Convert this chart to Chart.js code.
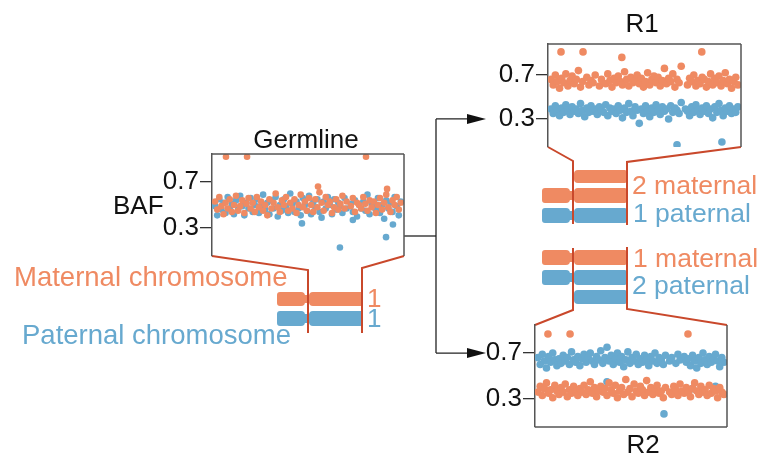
<!DOCTYPE html>
<html>
<head>
<meta charset="utf-8">
<script src="https://cdn.jsdelivr.net/npm/chart.js@4.4.1/dist/chart.umd.min.js"></script>
<style>
  html, body { margin: 0; padding: 0; background: #fff; }
  #stage { position: relative; width: 765px; height: 455px; overflow: hidden; font-family: "Liberation Sans", Arial, sans-serif; }
  #stage canvas { position: absolute; }
  .lbl { position: absolute; white-space: nowrap; color: #111; }
</style>
</head>
<body>
<div id="stage">
  <canvas id="deco" width="765" height="455" style="left:0;top:0"></canvas>
  <canvas id="germ" width="310" height="112" style="left:100px;top:150px"></canvas>
  <canvas id="r1" width="270" height="112" style="left:480px;top:40px"></canvas>
  <canvas id="r2" width="265" height="112" style="left:470px;top:320px"></canvas>
</div>
<script>
/**
 * BAF panels for the germline and the two tumour regions (R1, R2),
 * joined by the chromosome copy-number sketch.
 */

const ORANGE = '#EF8A62';
const BLUE   = '#67A9CF';
const RED    = '#C9482B';
const EDGE   = '#555';
const FONT   = '"Liberation Sans", Arial, sans-serif';

// y ticks shown on every panel
const yTicks = [0.3, 0.7];

// Germline: maternal / paternal BAF along the segment (index = SNP order)
const gMaternal = [0.53,0.46,0.57,0.49,0.42,0.52,0.47,0.55,0.44,0.50,
  0.58,0.45,0.49,0.54,0.43,0.51,0.56,0.47,0.52,0.44,
  0.57,0.48,0.53,0.45,0.50,0.41,0.55,0.47,0.52,0.60,
  0.48,0.44,0.54,0.50,0.57,0.45,0.52,0.47,0.55,0.43,
  0.50,0.59,0.48,0.53,0.45,0.56,0.50,0.44,0.55,0.48,
  0.61,0.52,0.45,0.57,0.50,0.53,0.43,0.48,0.55,0.46,
  0.51,0.58,0.47,0.53,null,0.49,0.56,0.44,0.52,0.50,
  0.47,0.57,0.51,0.45,0.54,0.48,0.53,0.43,0.50,0.56,
  0.46,0.52,0.59,0.48,0.44,0.54,0.50,0.57,0.46,0.52];
const gPaternal = [0.49,0.41,0.55,0.46,0.52,0.43,0.57,0.47,0.51,0.42,
  0.54,0.46,0.58,0.49,0.41,0.52,0.47,0.56,0.44,0.50,
  0.55,0.43,0.49,0.59,0.46,0.52,0.42,0.54,0.47,0.57,
  0.40,0.50,0.45,0.55,0.49,0.43,0.60,0.51,0.44,0.53,
  0.47,0.41,0.56,0.50,0.45,0.58,0.42,0.52,0.48,0.55,
  0.44,0.39,0.53,0.47,0.57,0.50,0.42,0.55,0.46,0.52,
  0.49,0.43,0.56,0.47,null,0.51,0.44,0.54,0.40,0.50,
  0.47,0.53,0.45,0.59,0.42,0.51,0.48,0.46,0.56,0.43,
  0.50,0.38,0.54,0.47,0.52,0.44,0.57,0.49,0.41,0.53];
const gMatOutX = [5.2, 15.3, 49.3, 72.3, 82.4];
const gMatOutY = [0.92, 0.92, 0.66, 0.92, 0.64];
const gPatOutX = [41.6, 59.8, 66, 81.9, 85.2];
const gPatOutY = [0.34, 0.13, 0.37, 0.22, 0.33];

// R1: 2 maternal + 1 paternal
const r1Maternal = [0.66,0.61,0.70,0.64,0.58,0.67,0.63,0.71,0.60,0.65,
  0.69,0.62,0.66,0.74,0.59,0.64,null,0.68,0.61,0.65,
  0.63,0.70,null,0.60,0.66,null,0.62,0.71,0.65,0.59,
  0.67,0.63,0.69,0.64,0.61,0.73,0.66,0.60,0.68,0.63,
  0.65,0.70,0.62,0.67,0.59,0.64,0.72,0.61,0.66,0.69,
  0.63,0.68,0.60,0.65,0.76,0.62,0.67,0.64,0.71,0.59,
  0.66,0.63,0.78,null,null,0.61,0.67,0.64,0.70,0.60,
  0.65,0.62,0.68,0.66,0.59,0.64,0.71,0.61,0.67,0.63,
  0.69,0.60,0.65,0.72,0.62,0.66,0.58,0.64,0.68,0.61];
const r1Paternal = [0.39,0.35,0.42,0.37,0.33,0.40,0.36,0.43,0.38,0.34,
  0.41,0.37,0.39,0.35,0.44,0.38,0.32,0.40,0.36,0.42,
  0.37,0.39,0.34,0.41,0.38,0.36,0.43,0.33,0.40,0.37,
  0.39,0.35,0.42,0.38,0.31,0.40,0.36,0.44,0.37,0.33,
  0.41,0.38,0.26,0.39,0.35,0.42,0.37,0.32,0.40,0.36,
  0.43,0.38,0.34,0.41,0.37,0.39,0.30,0.42,0.36,0.40,
  0.38,0.35,0.45,null,0.39,0.37,0.33,0.41,0.36,0.43,
  0.38,0.34,0.40,0.37,0.42,0.35,0.39,0.31,0.41,0.36,
  0.44,0.38,0.33,0.40,0.37,0.42,0.35,0.39,0.36,0.41];
const r1MatOutX = [4.7, 15.2, 33.7, 71.8];
const r1MatOutY = [0.91, 0.91, 0.86, 0.91];
const r1PatOutX = [60, 81.4];
const r1PatOutY = [0.065, 0.09];

// R2: 1 maternal + 2 paternal
const r2Maternal = [0.36,0.41,0.33,0.39,0.44,0.35,0.38,0.31,0.42,0.37,
  0.34,0.40,0.36,0.43,0.32,0.38,0.35,0.41,0.37,0.33,
  0.39,0.36,0.42,0.34,0.38,0.45,0.35,0.40,0.32,0.37,
  0.41,0.36,0.39,0.33,0.44,0.38,0.35,0.42,0.31,0.37,
  0.40,0.34,0.47,0.36,0.39,0.32,0.43,0.37,0.35,0.41,
  0.38,0.33,0.46,0.36,0.40,0.34,0.39,0.42,0.35,0.37,
  0.31,0.40,null,0.36,0.34,0.41,0.38,0.33,0.43,0.37,
  0.35,0.40,0.36,0.32,0.39,0.44,0.37,0.34,0.41,0.36,
  0.38,0.33,0.42,0.35,0.39,0.37,0.31,0.40,0.36,0.34];
const r2Paternal = [0.66,0.60,0.69,0.63,0.57,0.67,0.62,0.70,0.64,0.59,
  0.65,0.61,0.68,0.63,0.66,0.60,0.71,0.64,0.62,0.67,
  0.59,0.65,0.69,0.62,0.66,0.70,0.63,0.60,0.67,0.64,
  0.72,0.61,0.66,0.75,0.63,0.68,0.60,0.65,0.70,0.62,
  0.67,0.58,0.64,0.71,0.61,0.66,0.63,0.69,0.60,0.65,
  0.62,0.68,0.64,0.59,0.67,0.63,0.70,0.61,0.66,0.64,
  0.60,0.68,null,0.63,0.66,null,0.61,0.69,0.64,null,
  0.67,0.62,0.65,0.59,0.68,0.63,0.57,0.66,0.61,0.70,
  0.64,0.60,0.67,0.62,0.65,0.69,0.63,0.58,0.66,0.62];
const r2MatOutX = [4.7, 15.3, 71.8];
const r2MatOutY = [0.865, 0.865, 0.865];
const r2PatOutX = [33, 60.3, 74, 85];
const r2PatOutY = [0.45, 0.17, 0.39, 0.41];

function series(ys) {
  return ys.map((y, i) => ({ x: i, y: y }));
}
function pairs(xs, ys) {
  return xs.map((x, i) => ({ x: x, y: ys[i] }));
}

// draws the top / right / bottom edges of the panel frame
const panelBox = {
  id: 'panelBox',
  afterDraw(chart, args, opts) {
    const { ctx, chartArea: a } = chart;
    ctx.save();
    ctx.strokeStyle = EDGE;
    ctx.lineWidth = 1.5;
    ctx.beginPath();
    if (opts.top) { ctx.moveTo(a.left, a.top); ctx.lineTo(a.right, a.top); }
    ctx.moveTo(a.right, a.top);
    ctx.lineTo(a.right, a.bottom);
    if (opts.bottom) { ctx.moveTo(a.left, a.bottom); ctx.lineTo(a.right, a.bottom); }
    ctx.stroke();
    ctx.restore();
  }
};

function makePanel(id, p) {
  const n = p.mat.length;
  const dot = (data, color) => ({
    data: data, backgroundColor: color, borderWidth: 0,
    pointRadius: p.r, pointHoverRadius: p.r
  });
  return new Chart(document.getElementById(id), {
    type: 'scatter',
    data: {
      datasets: [
        dot(series(p.mat), ORANGE),
        dot(series(p.pat), BLUE),
        dot(pairs(p.matOutX, p.matOutY), ORANGE),
        dot(pairs(p.patOutX, p.patOutY), BLUE)
      ]
    },
    options: {
      responsive: false,
      animation: false,
      events: [],
      layout: { padding: { top: p.pad[0], right: p.pad[1], bottom: p.pad[2], left: 0 } },
      plugins: {
        legend: { display: false },
        tooltip: { enabled: false },
        panelBox: { top: p.top, bottom: p.bottom }
      },
      scales: {
        x: { display: false, min: -1.5, max: n + 0.5 },
        y: {
          min: p.min, max: p.max,
          afterBuildTicks: s => { s.ticks = yTicks.map(v => ({ value: v })); },
          afterFit: s => { s.width = p.axisW; s.paddingTop = 0; s.paddingBottom = 0; },
          ticks: { callback: v => v.toFixed(1), color: '#111', padding: 1, font: { family: FONT, size: 26 } },
          grid: { drawOnChartArea: false, tickLength: 12, color: '#333', lineWidth: 1.3 },
          border: { color: EDGE, width: 1.5 }
        }
      }
    },
    plugins: [panelBox]
  });
}

const germ = makePanel('germ', {
  mat: gMaternal, pat: gPaternal, matOutX: gMatOutX, matOutY: gMatOutY, patOutX: gPatOutX, patOutY: gPatOutY,
  min: 0.056, max: 0.944, axisW: 112, pad: [4, 6, 6], top: true, bottom: false, r: 3.3
});
const r1 = makePanel('r1', {
  mat: r1Maternal, pat: r1Paternal, matOutX: r1MatOutX, matOutY: r1MatOutY, patOutX: r1PatOutX, patOutY: r1PatOutY,
  min: 0.045, max: 0.982, axisW: 68, pad: [4, 9, 5], top: true, bottom: false, r: 3.8
});
const r2 = makePanel('r2', {
  mat: r2Maternal, pat: r2Paternal, matOutX: r2MatOutX, matOutY: r2MatOutY, patOutX: r2PatOutX, patOutY: r2PatOutY,
  min: 0.056, max: 0.944, axisW: 65, pad: [5, 8, 5], top: false, bottom: true, r: 3.8
});

// chart area of a panel in page coordinates
function area(chart) {
  const c = chart.canvas, a = chart.chartArea;
  const ox = c.offsetLeft, oy = c.offsetTop;
  return { left: ox + a.left, right: ox + a.right, top: oy + a.top, bottom: oy + a.bottom, oy: oy };
}

// ---- sketch: connectors, arrows, chromosomes ----
const ctx = document.getElementById('deco').getContext('2d');
const gA = area(germ), r1A = area(r1), r2A = area(r2);

function poly(pts, color, w) {
  ctx.strokeStyle = color;
  ctx.lineWidth = w;
  ctx.beginPath();
  pts.forEach((p, i) => i ? ctx.lineTo(p[0], p[1]) : ctx.moveTo(p[0], p[1]));
  ctx.stroke();
}

function chromosome(x0, xc, x1, y, h, color, full) {
  ctx.fillStyle = color;
  ctx.beginPath();
  if (full) ctx.roundRect(x0, y, xc - 2 - x0, h, [3, 4, 4, 3]);
  ctx.roundRect(xc + 2, y, x1 - xc - 2, h, [4, 1, 1, 4]);
  ctx.fill();
  if (full) ctx.fillRect(xc - 3, y + 3, 6, h - 6);
}

function arrow(x0, x1, y) {
  poly([[x0, y], [x1 - 16, y]], '#222', 1.3);
  ctx.fillStyle = '#111';
  ctx.beginPath();
  ctx.moveTo(x1 - 19, y - 5);
  ctx.lineTo(x1, y);
  ctx.lineTo(x1 - 19, y + 5);
  ctx.closePath();
  ctx.fill();
}

// germline chromosomes
chromosome(277, 307, 362, 292, 14, ORANGE, true);
chromosome(277, 307, 362, 311, 15, BLUE, true);
// R1: extra maternal arm + maternal + paternal
chromosome(542, 572, 626, 170, 13, ORANGE, false);
chromosome(542, 572, 626, 188, 15, ORANGE, true);
chromosome(542, 572, 626, 208, 15, BLUE, true);
// R2: maternal + paternal + extra paternal arm
chromosome(542, 572, 626, 250, 15, ORANGE, true);
chromosome(542, 572, 626, 270, 15, BLUE, true);
chromosome(542, 572, 626, 290, 14, BLUE, false);

// zoom lines from each panel down/up to its chromosomes
poly([[gA.left, gA.bottom], [308, 270], [308, 333]], RED, 2);
poly([[gA.right, gA.bottom], [362, 268], [362, 333]], RED, 2);
poly([[r1A.left, r1A.bottom], [573, 161], [573, 224]], RED, 2);
poly([[r1A.right, r1A.bottom], [627, 162], [627, 225]], RED, 2);
poly([[573, 248], [573, 310], [r2A.left, r2A.top]], RED, 2);
poly([[627, 247], [627, 309], [r2A.right, r2A.top]], RED, 2);

// germline -> R1 / R2
const yTo1 = r1A.oy + r1.scales.y.getPixelForValue(0.3);
const yTo2 = r2A.oy + r2.scales.y.getPixelForValue(0.7);
poly([[gA.right, 236], [436, 236]], '#222', 1.3);
poly([[436, yTo1], [436, yTo2]], '#222', 1.3);
arrow(436, 486, yTo1);
arrow(436, 486, yTo2);

// ---- text ----
const labels = [
  { t: 'Germline', x: 306, base: 148, size: 26, color: '#111', center: true },
  { t: 'R1', x: 642, base: 32, size: 26, color: '#111', center: true },
  { t: 'R2', x: 643, base: 453, size: 26, color: '#111', center: true },
  { t: 'BAF', x: 113, base: 214, size: 26, color: '#111' },
  { t: 'Maternal chromosome', x: 14, base: 286, size: 27.5, color: ORANGE },
  { t: 'Paternal chromosome', x: 22, base: 344, size: 27.5, color: BLUE },
  { t: '1', x: 367, base: 307, size: 26, color: ORANGE },
  { t: '1', x: 367, base: 327, size: 26, color: BLUE },
  { t: '2 maternal', x: 632, base: 194, size: 26.5, color: ORANGE },
  { t: '1 paternal', x: 633, base: 222, size: 26.5, color: BLUE },
  { t: '1 maternal', x: 633, base: 267, size: 26.5, color: ORANGE },
  { t: '2 paternal', x: 632, base: 294, size: 26.5, color: BLUE }
];
const stage = document.getElementById('stage');
labels.forEach(l => {
  const d = document.createElement('div');
  d.className = 'lbl';
  d.textContent = l.t;
  d.style.fontSize = l.size + 'px';
  d.style.lineHeight = l.size + 'px';
  d.style.color = l.color;
  d.style.left = l.x + 'px';
  d.style.top = (l.base - Math.round(l.size * 0.8465)) + 'px';
  if (l.center) d.style.transform = 'translateX(-50%)';
  stage.appendChild(d);
});
</script>
</body>
</html>
